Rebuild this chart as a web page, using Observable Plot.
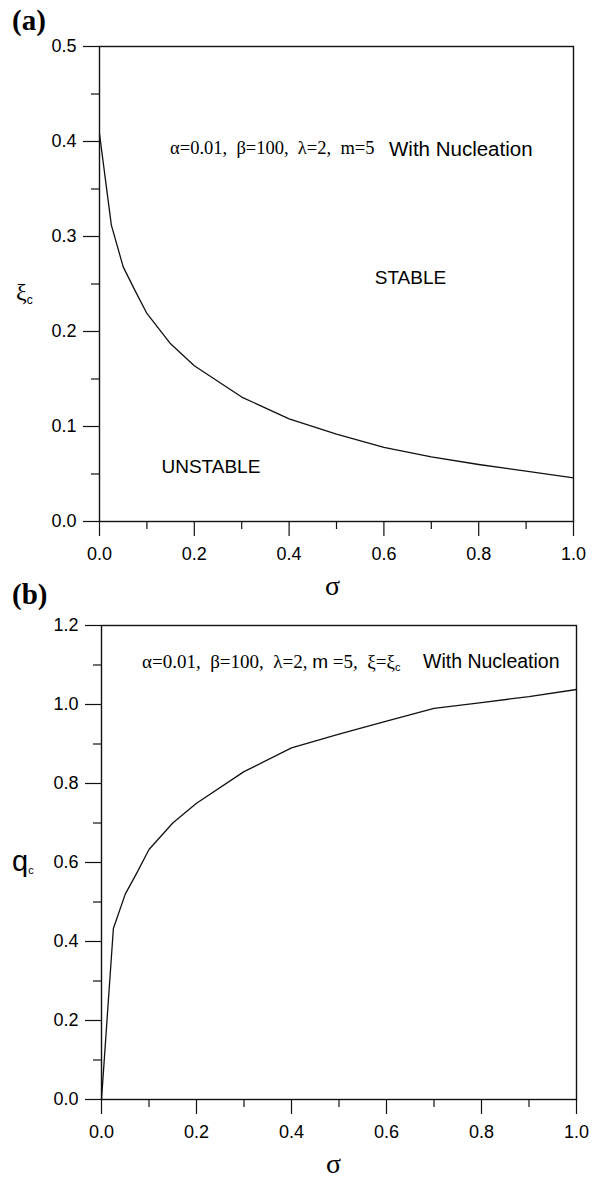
<!DOCTYPE html>
<html>
<head>
<meta charset="utf-8">
<script src="https://cdn.jsdelivr.net/npm/d3@7"></script>
<script src="https://cdn.jsdelivr.net/npm/@observablehq/plot@0.6"></script>
<style>
  body { margin: 0; background: #fff; }
  #page { position: relative; width: 597px; height: 1180px; overflow: hidden; background: #fff; color: #000;
          font-family: "Liberation Sans", Arial, sans-serif; }
  .panel { position: absolute; left: 0; width: 597px; }
  .lbl { position: absolute; white-space: nowrap; line-height: 1; }
  .serif { font-family: "Liberation Serif", "Times New Roman", serif; }
  .sans { font-family: "Liberation Sans", Arial, sans-serif; }
  sub { vertical-align: -0.3em; font-family: "Liberation Sans", Arial, sans-serif; }
</style>
</head>
<body>
<div id="page">
  <div id="chartA" class="panel" style="top:0px"></div>
  <div id="chartB" class="panel" style="top:590px"></div>

  <!-- panel (a) text -->
  <div class="lbl serif" style="left:12px;top:6px;font-size:29px;font-weight:bold">(a)</div>
  <div class="lbl serif" style="left:16px;top:280px;font-size:24px">ξ<sub style="font-size:12px">c</sub></div>
  <div class="lbl serif" style="left:325px;top:572px;font-size:28px">σ</div>
  <div class="lbl serif" style="left:170px;top:139px;font-size:18.5px">α=0.01,&nbsp; β=100,&nbsp; λ=2,&nbsp; m=5</div>
  <div class="lbl sans" style="left:389px;top:139px;font-size:20.5px">With Nucleation</div>

  <!-- panel (b) text -->
  <div class="lbl serif" style="left:12px;top:580px;font-size:29px;font-weight:bold">(b)</div>
  <div class="lbl sans" style="left:12px;top:847px;font-size:29px">q<sub style="font-size:11px">c</sub></div>
  <div class="lbl serif" style="left:326px;top:1151px;font-size:28px;line-height:0.95">σ</div>
  <div class="lbl serif" style="left:142px;top:652px;font-size:19px">α=0.01,&nbsp; β=100,&nbsp; λ=2, <span class="sans">m</span> =5,&nbsp; ξ=ξ<sub style="font-size:11px">c</sub></div>
  <div class="lbl sans" style="left:423px;top:652px;font-size:19.5px">With Nucleation</div>
</div>

<script>
// Critical dimensionless width ξc against σ (panel a)
const sigmaA = [0, 0.025, 0.05, 0.075, 0.1, 0.15, 0.2, 0.3, 0.4, 0.5, 0.6, 0.7, 0.8, 0.9, 1.0];
const xiC    = [0.408, 0.312, 0.268, 0.243, 0.219, 0.187, 0.164, 0.131, 0.108, 0.092, 0.078, 0.068, 0.060, 0.053, 0.046];

// Critical wavenumber qc against σ at ξ = ξc (panel b)
const sigmaB = [0, 0.025, 0.05, 0.075, 0.1, 0.15, 0.2, 0.3, 0.4, 0.5, 0.6, 0.7, 0.8, 0.9, 1.0];
const qC     = [0, 0.433, 0.52, 0.575, 0.633, 0.70, 0.75, 0.83, 0.89, 0.925, 0.958, 0.99, 1.005, 1.02, 1.038];

// Region labels in panel a
const regionNames = ["STABLE", "UNSTABLE"];
const regionSigma = [0.656, 0.235];
const regionXi    = [0.256, 0.057];

// Tick positions
const xMajor  = [0, 0.2, 0.4, 0.6, 0.8, 1.0];
const xMinor  = [0.1, 0.3, 0.5, 0.7, 0.9];
const yMajorA = [0, 0.1, 0.2, 0.3, 0.4, 0.5];
const yMinorA = [0.05, 0.15, 0.25, 0.35, 0.45];
const yMajorB = [0, 0.2, 0.4, 0.6, 0.8, 1.0, 1.2];
const yMinorB = [0.1, 0.3, 0.5, 0.7, 0.9, 1.1];

const curveA = sigmaA.map((s, i) => ({sigma: s, value: xiC[i]}));
const curveB = sigmaB.map((s, i) => ({sigma: s, value: qC[i]}));
const regions = regionNames.map((n, i) => ({name: n, sigma: regionSigma[i], value: regionXi[i]}));

const fmt = d3.format(".1f");
const blank = () => "";
const ink = "#111";

function axes(yMajor, yMinor) {
  return [
    Plot.axisX(xMajor, {tickSize: 15, tickPadding: 11, tickFormat: fmt, label: null, fontSize: 18, stroke: ink, strokeWidth: 1.2}),
    Plot.axisX(xMinor, {tickSize: 8, tickFormat: blank, label: null, stroke: ink, strokeWidth: 1.2}),
    Plot.axisY(yMajor, {tickSize: 16, tickPadding: 7, tickFormat: fmt, label: null, fontSize: 18, stroke: ink, strokeWidth: 1.2}),
    Plot.axisY(yMinor, {tickSize: 8, tickFormat: blank, label: null, stroke: ink, strokeWidth: 1.2})
  ];
}

const style = {fontFamily: "'Liberation Sans', Arial, sans-serif", fontSize: "18px", color: "#000", background: "white"};

const chartA = Plot.plot({
  width: 597, height: 590,
  marginLeft: 99, marginRight: 24, marginTop: 46, marginBottom: 69,
  style,
  x: {domain: [0, 1]},
  y: {domain: [0, 0.5]},
  marks: [
    ...axes(yMajorA, yMinorA),
    Plot.line(curveA, {x: "sigma", y: "value", stroke: ink, strokeWidth: 1.3}),
    Plot.text(regions, {x: "sigma", y: "value", text: "name", fontSize: 19, fill: "#000"}),
    Plot.frame({stroke: ink, strokeWidth: 1.4})
  ]
});
document.getElementById("chartA").append(chartA);

const chartB = Plot.plot({
  width: 597, height: 590,
  marginLeft: 101, marginRight: 21, marginTop: 35, marginBottom: 81,
  style,
  x: {domain: [0, 1]},
  y: {domain: [0, 1.2]},
  marks: [
    ...axes(yMajorB, yMinorB),
    Plot.line(curveB, {x: "sigma", y: "value", stroke: ink, strokeWidth: 1.3}),
    Plot.frame({stroke: ink, strokeWidth: 1.4})
  ]
});
document.getElementById("chartB").append(chartB);
</script>
</body>
</html>
